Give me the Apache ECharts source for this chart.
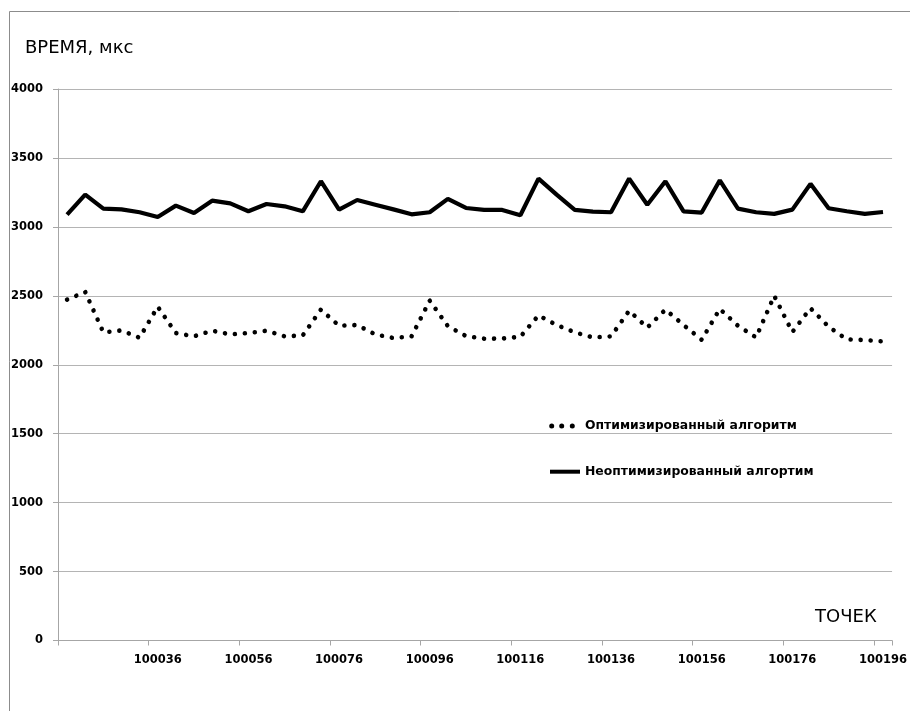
<!DOCTYPE html>
<html>
<head>
<meta charset="utf-8">
<script src="https://cdn.jsdelivr.net/npm/echarts@6/dist/echarts.min.js"></script>
<style>
html,body{margin:0;padding:0;background:#fff;}
#chart{width:910px;height:711px;}
</style>
</head>
<body>
<div id="chart"></div>
<script>
// ---- data ----
var startPoint = 100016;
var stepPoint = 4;
var pointCount = 46;
var categories = [];
for (var k = 0; k < pointCount; k++) { categories.push(String(startPoint + stepPoint * k)); }

var seriesNames = ['Оптимизированный алгоритм', 'Неоптимизированный алгортим'];

var optimized = [2472, 2528, 2235, 2249, 2196, 2421, 2230, 2206, 2247, 2220,
                 2230, 2247, 2206, 2213, 2400, 2283, 2288, 2220, 2194, 2206,
                 2465, 2280, 2208, 2189, 2190, 2203, 2358, 2288, 2235, 2198,
                 2206, 2392, 2269, 2400, 2288, 2181, 2405, 2283, 2198, 2500,
                 2237, 2410, 2276, 2184, 2179, 2169];

var unoptimized = [3089, 3234, 3132, 3127, 3106, 3072, 3154, 3101, 3190, 3171,
                   3113, 3166, 3149, 3113, 3331, 3125, 3195, 3161, 3127, 3091,
                   3106, 3203, 3137, 3123, 3123, 3084, 3350, 3234, 3123, 3111,
                   3106, 3350, 3161, 3331, 3113, 3104, 3338, 3132, 3106, 3094,
                   3125, 3312, 3135, 3113, 3094, 3108];

var yMin = 0, yMax = 4000, yStep = 500;
var yTitle = 'ВРЕМЯ, мкс';
var xTitle = 'ТОЧЕК';

// ---- legend icons (36x14 box) ----
function circ(cx, cy, r) {
  return 'M' + (cx - r) + ' ' + cy + ' A' + r + ' ' + r + ' 0 1 0 ' + (cx + r) + ' ' + cy +
         ' A' + r + ' ' + r + ' 0 1 0 ' + (cx - r) + ' ' + cy + ' Z ';
}
var boxPts = 'M0 0 L0 0 M36 14 L36 14 ';
var dottedIcon = 'path://' + boxPts + circ(7.7, 7, 2.5) + circ(17.7, 7, 2.5) + circ(28.3, 7, 2.5);
var solidIcon = 'path://' + boxPts + 'M6 5 L36 5 L36 9 L6 9 Z';

// ---- chart ----
var chart = echarts.init(document.getElementById('chart'), null, {renderer: 'canvas'});
var font = '"DejaVu Sans", sans-serif';

var option = {
  animation: false,
  backgroundColor: '#ffffff',
  grid: {left: 58, right: 17, top: 89, bottom: 70.5, containLabel: false},
  xAxis: {
    type: 'category',
    data: categories,
    boundaryGap: true,
    axisLine: {show: true, lineStyle: {color: '#a6a6a6', width: 1}},
    axisTick: {show: true, length: 5, inside: false, alignWithLabel: false,
      interval: function (i) { return i % 5 === 0; },
      lineStyle: {color: '#a6a6a6'}},
    axisLabel: {
      interval: function (i) { return i > 0 && i % 5 === 0; },
      margin: 14,
      color: '#000',
      fontFamily: font, fontWeight: 'bold', fontSize: 11.5
    },
    splitLine: {show: false}
  },
  yAxis: {
    type: 'value',
    min: yMin, max: yMax, interval: yStep,
    axisLine: {show: true, lineStyle: {color: '#a6a6a6', width: 1}},
    axisTick: {show: true, length: 5, inside: false, lineStyle: {color: '#a6a6a6'}},
    axisLabel: {margin: 15, color: '#000', fontFamily: font, fontWeight: 'bold', fontSize: 11.5,
      formatter: function (v) { return String(v); }},
    splitLine: {show: true, lineStyle: {color: '#b4b4b4', width: 1}}
  },
  legend: {
    orient: 'vertical',
    left: 544, top: 419,
    padding: 0,
    itemWidth: 36, itemHeight: 14, itemGap: 31.7,
    symbolKeepAspect: false,
    data: [
      {name: seriesNames[0], icon: dottedIcon},
      {name: seriesNames[1], icon: solidIcon}
    ],
    itemStyle: {color: '#000', borderWidth: 0},
    textStyle: {color: '#000', fontFamily: font, fontWeight: 'bold', fontSize: 12.4}
  },
  series: [
    {
      name: seriesNames[0],
      type: 'line',
      data: optimized,
      symbol: 'none',
      showSymbol: false,
      lineStyle: {color: '#000', width: 4.6, type: [0.01, 10], cap: 'round'},
      itemStyle: {color: '#000'},
      z: 3
    },
    {
      name: seriesNames[1],
      type: 'line',
      data: unoptimized,
      symbol: 'none',
      showSymbol: false,
      lineStyle: {color: '#000', width: 4.2, type: 'solid'},
      itemStyle: {color: '#000'},
      z: 3
    }
  ],
  graphic: [
    {type: 'polyline', shape: {points: [[9.5, 711], [9.5, 11.5], [910, 11.5]]},
     style: {stroke: '#8c8c8c', lineWidth: 1, fill: null}, silent: true},
    {type: 'text', x: 25, y: 48,
     style: {text: yTitle, font: '18px "DejaVu Sans", sans-serif', fill: '#000', verticalAlign: 'middle', align: 'left'}},
    {type: 'text', x: 815, y: 617,
     style: {text: xTitle, font: '18px "DejaVu Sans", sans-serif', fill: '#000', verticalAlign: 'middle', align: 'left'}}
  ]
};
chart.setOption(option);
</script>
</body>
</html>
